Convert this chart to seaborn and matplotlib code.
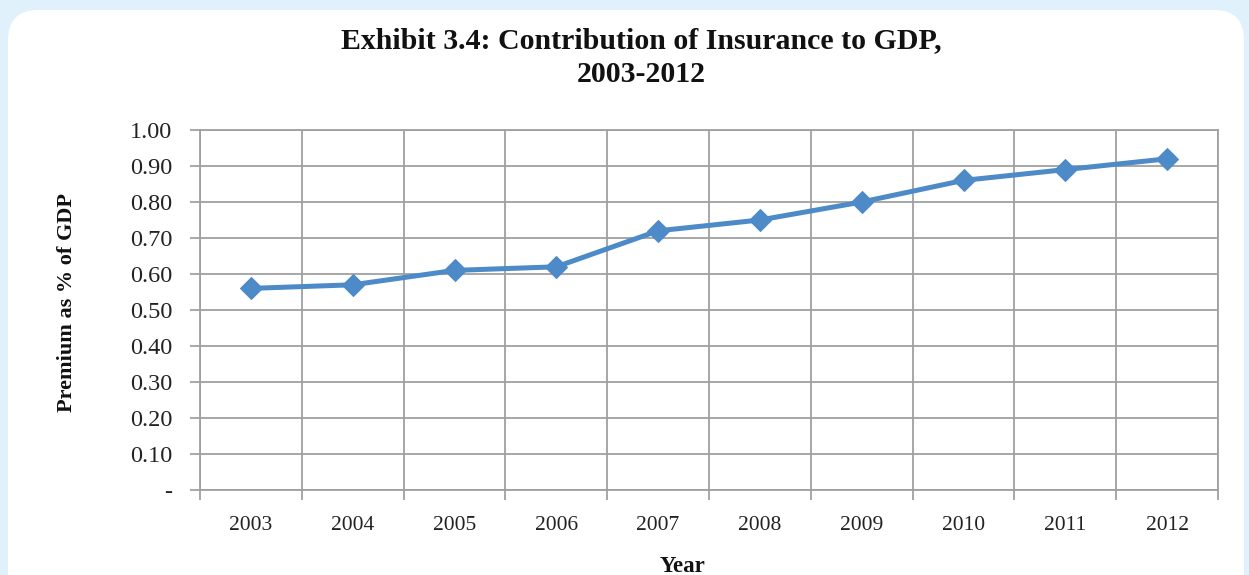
import matplotlib
matplotlib.use("Agg")
import matplotlib.pyplot as plt
import seaborn as sns
import pandas as pd
from matplotlib.patches import FancyBboxPatch
from matplotlib.transforms import IdentityTransform
from matplotlib.ticker import FixedLocator, FixedFormatter

years = ["2003", "2004", "2005", "2006", "2007", "2008", "2009", "2010", "2011", "2012"]
premium_pct_gdp = [0.56, 0.57, 0.61, 0.62, 0.72, 0.75, 0.80, 0.86, 0.89, 0.92]
y_ticks = [0.0, 0.1, 0.2, 0.3, 0.4, 0.5, 0.6, 0.7, 0.8, 0.9, 1.0]
y_tick_labels = ["-", "0.10", "0.20", "0.30", "0.40", "0.50", "0.60", "0.70", "0.80", "0.90", "1.00"]

df = pd.DataFrame({"Year": years, "Premium": premium_pct_gdp})

sns.set_theme(style="white")
plt.rcParams["font.family"] = ["Liberation Serif", "DejaVu Serif"]

W, H = 1249, 575
fig = plt.figure(figsize=(W / 100, H / 100), dpi=100)
fig.patch.set_facecolor("#e1f1fb")

panel = FancyBboxPatch((8, -40), 1236, 605, boxstyle="round,pad=0,rounding_size=30",
                       transform=IdentityTransform(), facecolor="white", edgecolor="none",
                       zorder=-10)
fig.patches.append(panel)

ax = fig.add_axes([200 / W, 1 - 490 / H, (1218 - 200) / W, (490 - 130) / H])
ax.set_zorder(5)
ax.set_facecolor("none")

sns.lineplot(data=df, x="Year", y="Premium", ax=ax, color="#4d8ac8", linewidth=3.6,
             marker="D", markersize=11, markeredgecolor="#4d8ac8", zorder=5)

ax.set_xlim(-0.5, len(years) - 0.5)
ax.set_ylim(0, 1.0)
ax.yaxis.set_major_locator(FixedLocator(y_ticks))
ax.yaxis.set_major_formatter(FixedFormatter(y_tick_labels))
ax.set_xticks(range(len(years)))
ax.set_xticklabels(years)
ax.set_xticks([i - 0.5 for i in range(len(years) + 1)], minor=True)

grid_c = "#a0a0a0"
ax.grid(False)
ax.yaxis.grid(True, which="major", color=grid_c, linewidth=1.3)
ax.xaxis.grid(True, which="minor", color=grid_c, linewidth=1.3)
for s in ax.spines.values():
    s.set_color(grid_c)
    s.set_linewidth(1.3)

ax.tick_params(axis="x", which="major", length=0, labelsize=15.5, colors="#222222", pad=19)
ax.tick_params(axis="x", which="minor", length=7, width=1.3, color=grid_c, direction="out", bottom=True)
ax.tick_params(axis="y", which="major", length=7, width=1.3, color=grid_c, direction="out",
               left=True, labelsize=17.5, labelcolor="#222222", pad=13)

ax.set_xlabel("")
ax.set_ylabel("")
fig.text(67 / W, 1 - 302 / H, "Premium as % of GDP", rotation=90, ha="center", va="center",
         fontsize=16, fontweight="bold", color="#111111")
fig.text(683 / W, 1 - 566 / H, "Year", ha="center", va="center",
         fontsize=16.5, fontweight="bold", color="#111111")
fig.text(641 / W, 1 - 41 / H, "Exhibit 3.4: Contribution of Insurance to GDP,", ha="center",
         va="center", fontsize=21.5, fontweight="bold", color="#111111")
fig.text(641 / W, 1 - 74 / H, "2003-2012", ha="center", va="center",
         fontsize=21.5, fontweight="bold", color="#111111")

fig.savefig("out.png", dpi=100, facecolor=fig.get_facecolor())
